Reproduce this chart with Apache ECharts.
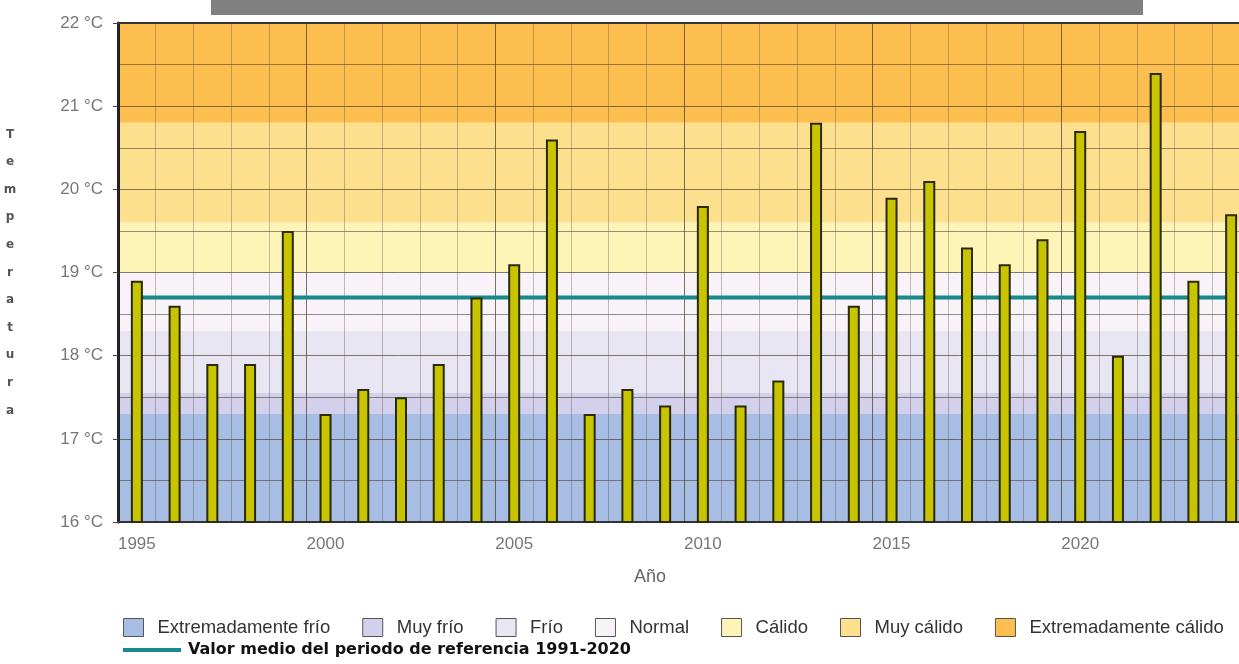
<!DOCTYPE html>
<html lang="es">

<head>
    <meta charset="UTF-8">
    <title>Temperatura media anual</title>
    <!-- ECharts -->
    <script src="https://cdn.jsdelivr.net/npm/echarts@6/dist/echarts.min.js"></script>
    <style>
        html, body { margin: 0; padding: 0; background: #fff; }
        #main { width: 1239px; height: 664px; }
    </style>
</head>

<body>
    <div id="main"></div>

    <script>
        // años
        var years = ['1995', '1996', '1997', '1998', '1999', '2000', '2001', '2002', '2003', '2004',
            '2005', '2006', '2007', '2008', '2009', '2010', '2011', '2012', '2013', '2014',
            '2015', '2016', '2017', '2018', '2019', '2020', '2021', '2022', '2023', '2024'];
        // temperatura media anual (°C)
        var temps = [18.9, 18.6, 17.9, 17.9, 19.5, 17.3, 17.6, 17.5, 17.9, 18.7,
            19.1, 20.6, 17.3, 17.6, 17.4, 19.8, 17.4, 17.7, 20.8, 18.6,
            19.9, 20.1, 19.3, 19.1, 19.4, 20.7, 18.0, 21.4, 18.9, 19.7];
        // valor medio del periodo de referencia 1991-2020
        var refName = 'Valor medio del periodo de referencia 1991-2020';
        var refMean = 18.7;
        // categorías, de frío a cálido
        var bandNames = ['Extremadamente frío', 'Muy frío', 'Frío', 'Normal', 'Cálido', 'Muy cálido', 'Extremadamente cálido'];
        var bandFrom = [16, 17.3, 17.55, 18.3, 19.0, 19.6, 20.8];
        var bandTo = [17.3, 17.55, 18.3, 19.0, 19.6, 20.8, 22];
        // eje y
        var yMin = 16, yMax = 22;

        var bandColors = ['#a7bde4', '#d2d0ea', '#e9e6f4', '#f8f3f8', '#fef4b8', '#fde08e', '#fcbe4f'];

        var myChart = echarts.init(document.getElementById('main'));

        // una serie vacía por categoría, con su franja (markArea) y su entrada en la leyenda
        var bandSeries = bandNames.map(function (name, i) {
            return {
                name: name,
                type: 'line',
                data: [],
                z: 1,
                itemStyle: { color: bandColors[i] },
                markArea: {
                    silent: true,
                    itemStyle: { color: bandColors[i] },
                    data: [[{ yAxis: bandFrom[i] }, { yAxis: bandTo[i] }]]
                }
            };
        });

        var option = {
            animation: false,
            textStyle: { fontFamily: 'Liberation Sans' },
            graphic: [{
                type: 'rect',
                left: 211, top: 0,
                shape: { width: 932, height: 15 },
                style: { fill: '#808080' }
            }],
            // el área sigue un poco más allá del borde derecho
            grid: { left: 118, width: 1132, top: 23, bottom: 142, outerBoundsMode: 'none' },
            legend: [{
                data: bandNames,
                left: 118, top: 613,
                icon: 'rect',
                itemWidth: 20, itemHeight: 18, itemGap: 32,
                itemStyle: { borderColor: '#555', borderWidth: 1 },
                textStyle: { fontSize: 18.5, color: '#333', padding: [0, 0, 0, 9] },
                selectedMode: false
            }, {
                data: [refName],
                left: 118, top: 637,
                icon: 'rect',
                itemWidth: 58, itemHeight: 4,
                textStyle: { fontSize: 16, fontWeight: 'bold', color: '#111', fontFamily: 'DejaVu Sans', padding: [0, 0, 0, 2] },
                selectedMode: false
            }],
            xAxis: [{
                type: 'category',
                data: years,
                z: 3,
                name: 'Año',
                nameLocation: 'middle',
                nameGap: 46,
                nameTextStyle: { color: '#666', fontSize: 18, padding: [0, 68, 0, 0] },
                axisLine: { lineStyle: { color: '#333', width: 2 } },
                axisTick: { interval: 0, length: 9, lineStyle: { color: '#aaa' } },
                axisLabel: { interval: 4, color: '#777', fontSize: 17, margin: 14 },
                splitLine: { show: true, interval: 0, lineStyle: { color: 'rgba(90,75,60,0.35)' } }
            }, {
                // líneas cada 5 años y borde superior
                type: 'category',
                data: years,
                position: 'top',
                z: 3,
                axisLine: { lineStyle: { color: '#333', width: 2 } },
                axisTick: { show: false },
                axisLabel: { show: false },
                splitLine: {
                    show: true,
                    interval: function (i) { return i % 5 === 0; },
                    lineStyle: { color: 'rgba(70,55,40,0.55)' }
                }
            }],
            yAxis: {
                type: 'value',
                min: yMin, max: yMax, interval: 1,
                z: 3,
                name: 'Temperatura'.split('').join('\n'),
                nameLocation: 'middle',
                nameRotate: 0,
                nameGap: 108,
                nameTextStyle: { color: '#555', fontWeight: 'bold', fontSize: 12, lineHeight: 27.6, align: 'center', fontFamily: 'DejaVu Sans' },
                axisLine: { show: true, lineStyle: { color: '#222', width: 3 } },
                axisTick: { show: true, length: 5, lineStyle: { color: '#444' } },
                axisLabel: { formatter: '{value} °C', color: '#777', fontSize: 17, margin: 15 },
                splitLine: { lineStyle: { color: 'rgba(70,55,40,0.65)' } },
                minorTick: { show: false, splitNumber: 2 },
                minorSplitLine: { show: true, lineStyle: { color: 'rgba(70,55,40,0.55)' } }
            },
            series: bandSeries.concat([{
                name: refName,
                type: 'line',
                data: years.map(function () { return refMean; }),
                z: 4,
                symbol: 'none',
                silent: true,
                itemStyle: { color: '#178a8c' },
                lineStyle: { color: '#178a8c', width: 4 }
            }, {
                name: 'Temperatura media',
                type: 'bar',
                data: temps,
                z: 5,
                barWidth: 12,
                itemStyle: { color: '#c8c400', borderColor: '#2a2a0a', borderWidth: 2 }
            }])
        };

        myChart.setOption(option);
    </script>
</body>

</html>
